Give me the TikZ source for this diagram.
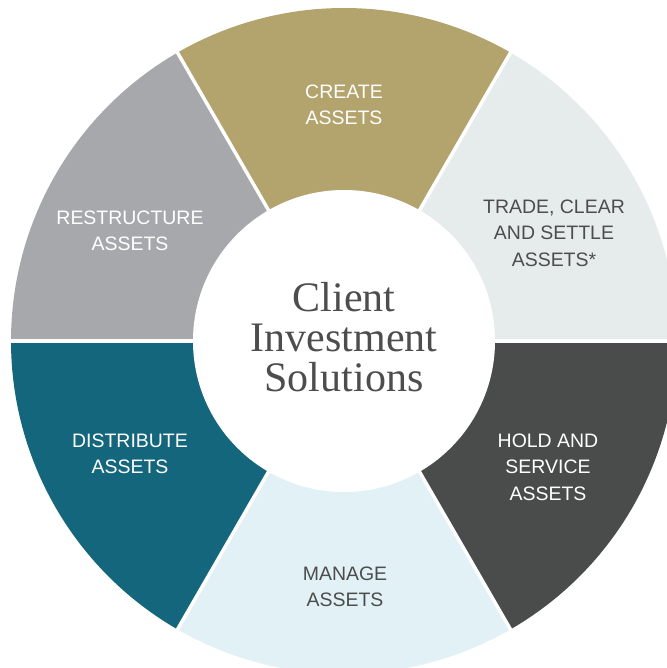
\documentclass[tikz,border=0pt]{standalone}
\usepackage{fontspec}
\setmainfont{Liberation Serif}
\setsansfont{Liberation Sans}
\usepackage{xcolor}
\definecolor{coulCreate}{HTML}{B3A36C}
\definecolor{coulTrade}{HTML}{E6ECEC}
\definecolor{coulHold}{HTML}{4A4C4B}
\definecolor{coulManage}{HTML}{E1F1F5}
\definecolor{coulDistribute}{HTML}{14667C}
\definecolor{coulRestructure}{HTML}{A7A8AB}
\definecolor{texteFonce}{HTML}{4D4D4D}

\begin{document}
\begin{tikzpicture}[x=0.75pt,y=0.75pt,
  etiquette/.style={font=\sffamily\fontsize{14.6}{19.9}\selectfont,align=center,inner sep=0pt},
  clair/.style={etiquette,text=texteFonce},
  fonce/.style={etiquette,text=white},
  titre/.style={font=\fontsize{31.5}{30}\selectfont,align=center,inner sep=0pt,text=texteFonce}]
\useasboundingbox (0,0) rectangle (667,668);
\clip (0,0) rectangle (667,668);
\coordinate (centre) at (344,327);
% secteurs de 60 degres
\foreach \debut/\coul in {60/coulCreate, 0/coulTrade, -60/coulHold, -120/coulManage, 180/coulDistribute, 120/coulRestructure}
  \fill[\coul] (centre) -- ++(\debut:333) arc[start angle=\debut, end angle=\debut+60, radius=333] -- cycle;
\foreach \a in {0,60,...,300}
  \draw[white,line width=2.6pt] (centre) -- ++(\a:345);
\fill[white] (centre) circle[radius=151]; % disque central
\node[fonce] (create) at (344,563) {CREATE\\ASSETS};
\node[clair] (trade) at (554,435) {TRADE, CLEAR\\AND SETTLE\\ASSETS*};
\node[fonce] (hold) at (548,201) {HOLD AND\\SERVICE\\ASSETS};
\node[clair] (manage) at (345,81) {MANAGE\\ASSETS};
\node[fonce] (distribute) at (130,214) {DISTRIBUTE\\ASSETS};
\node[fonce] (restructure) at (130,437) {RESTRUCTURE\\ASSETS};
\node[titre] (client) at (344,330.5) {Client\\Investment\\Solutions};
\end{tikzpicture}
\end{document}
